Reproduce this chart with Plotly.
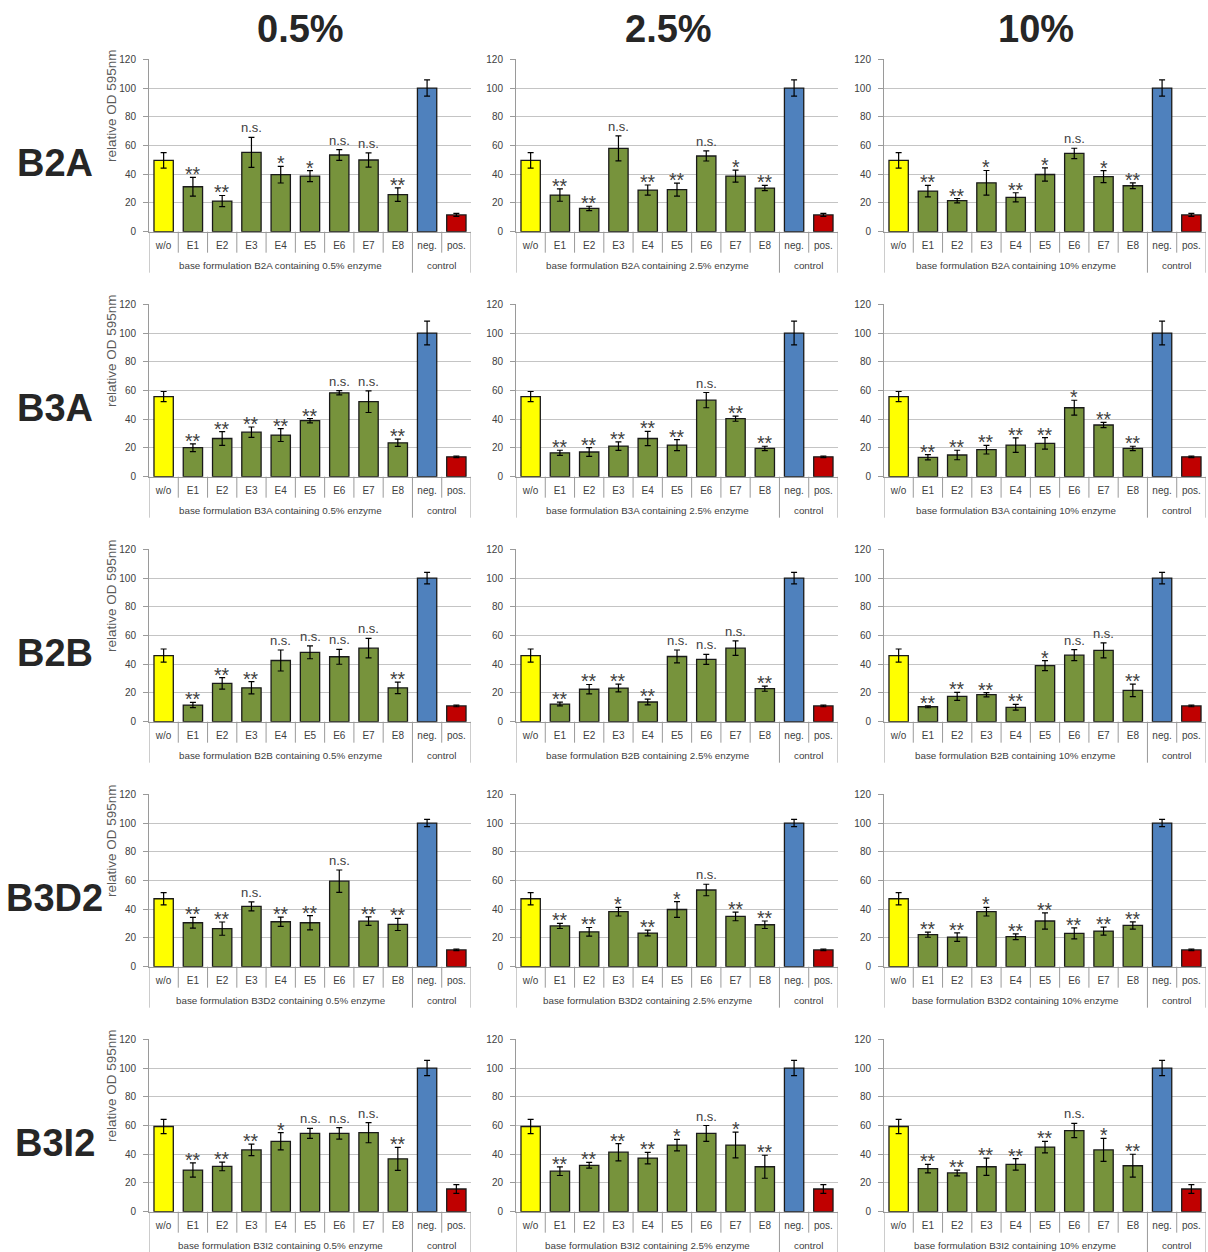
import plotly.graph_objects as go

# ---- categories and labels ----
categories = ["w/o", "E1", "E2", "E3", "E4", "E5", "E6", "E7", "E8", "neg.", "pos."]
formulations = ["B2A", "B3A", "B2B", "B3D2", "B3I2"]
concentrations = ["0.5%", "2.5%", "10%"]
bar_colors = ["#FFFF00"] + ["#77933C"] * 8 + ["#4F81BD", "#C00000"]

# ---- B2A ----
b2a_mean_05 = [49.6, 31.3, 21.3, 55.2, 39.7, 38.7, 53.4, 49.9, 25.8, 100, 11.7]
b2a_err_05 = [5.4, 6.5, 3.9, 10.4, 5.8, 3.8, 3.7, 5.0, 4.7, 5.7, 1.0]
b2a_sig_05 = ["", "**", "**", "n.s.", "*", "*", "n.s.", "n.s.", "**", "", ""]
b2a_mean_25 = [49.6, 25.5, 16.2, 58.0, 29.0, 29.3, 52.7, 38.7, 30.4, 100, 11.7]
b2a_err_25 = [5.4, 4.3, 1.5, 8.7, 3.5, 4.5, 3.5, 4.2, 1.8, 5.7, 1.0]
b2a_sig_25 = ["", "**", "**", "n.s.", "**", "**", "n.s.", "*", "**", "", ""]
b2a_mean_10 = [49.6, 28.3, 21.6, 34.0, 23.9, 39.8, 54.5, 38.3, 32.0, 100, 11.7]
b2a_err_10 = [5.4, 4.0, 1.5, 8.6, 3.2, 4.6, 3.6, 4.2, 2.0, 5.7, 1.0]
b2a_sig_10 = ["", "**", "**", "*", "**", "*", "n.s.", "*", "**", "", ""]

# ---- B3A ----
b3a_mean_05 = [55.8, 20.2, 26.6, 31.0, 29.0, 39.0, 58.4, 52.2, 23.6, 100, 13.8]
b3a_err_05 = [3.5, 2.7, 4.8, 3.6, 4.5, 1.5, 1.5, 7.5, 2.5, 8.3, 0.5]
b3a_sig_05 = ["", "**", "**", "**", "**", "**", "n.s.", "n.s.", "**", "", ""]
b3a_mean_25 = [55.8, 16.6, 17.2, 21.3, 26.6, 22.0, 53.3, 40.4, 19.7, 100, 13.8]
b3a_err_25 = [3.5, 1.8, 3.0, 3.0, 5.0, 3.8, 5.3, 1.8, 1.5, 8.3, 0.5]
b3a_sig_25 = ["", "**", "**", "**", "**", "**", "n.s.", "**", "**", "", ""]
b3a_mean_10 = [55.8, 13.5, 15.1, 18.8, 22.0, 23.2, 48.0, 36.0, 19.7, 100, 13.8]
b3a_err_10 = [3.5, 1.8, 3.3, 3.0, 5.0, 4.0, 5.2, 1.8, 1.5, 8.3, 0.5]
b3a_sig_10 = ["", "**", "**", "**", "**", "**", "*", "**", "**", "", ""]

# ---- B2B ----
b2b_mean_05 = [46.0, 11.6, 26.7, 23.6, 42.6, 48.3, 45.2, 51.2, 23.6, 100, 11.0]
b2b_err_05 = [4.6, 1.8, 4.0, 4.3, 7.3, 4.5, 5.2, 6.8, 4.0, 4.0, 0.6]
b2b_sig_05 = ["", "**", "**", "**", "n.s.", "n.s.", "n.s.", "n.s.", "**", "", ""]
b2b_mean_25 = [46.0, 12.3, 22.6, 23.4, 13.7, 45.4, 43.4, 51.2, 23.0, 100, 11.0]
b2b_err_25 = [4.6, 1.3, 3.3, 2.7, 2.0, 4.5, 3.5, 5.0, 1.8, 4.0, 0.6]
b2b_sig_25 = ["", "**", "**", "**", "**", "n.s.", "n.s.", "n.s.", "**", "", ""]
b2b_mean_10 = [46.0, 10.4, 17.6, 18.8, 10.0, 39.0, 46.3, 49.6, 21.8, 100, 11.0]
b2b_err_10 = [4.6, 0.7, 2.8, 1.5, 2.0, 3.5, 3.8, 5.2, 4.3, 4.0, 0.6]
b2b_sig_10 = ["", "**", "**", "**", "**", "*", "n.s.", "n.s.", "**", "", ""]

# ---- B3D2 ----
b3d2_mean_05 = [47.3, 30.6, 26.5, 42.0, 31.3, 30.6, 59.5, 31.7, 29.4, 100, 11.7]
b3d2_err_05 = [4.3, 3.7, 4.6, 3.1, 3.2, 5.0, 7.8, 3.0, 4.2, 2.5, 0.5]
b3d2_sig_05 = ["", "**", "**", "n.s.", "**", "**", "n.s.", "**", "**", "", ""]
b3d2_mean_25 = [47.3, 28.4, 24.3, 38.3, 23.4, 39.8, 53.4, 35.0, 29.2, 100, 11.7]
b3d2_err_25 = [4.3, 1.8, 3.0, 3.0, 2.0, 5.5, 4.0, 3.0, 2.6, 2.5, 0.5]
b3d2_sig_25 = ["", "**", "**", "*", "**", "*", "n.s.", "**", "**", "", ""]
b3d2_mean_10 = [47.3, 22.3, 20.6, 38.3, 20.9, 31.8, 23.2, 24.8, 28.7, 100, 11.7]
b3d2_err_10 = [4.3, 1.8, 3.0, 3.0, 2.0, 5.7, 3.8, 2.8, 2.5, 2.5, 0.5]
b3d2_sig_10 = ["", "**", "**", "*", "**", "**", "**", "**", "**", "", ""]

# ---- B3I2 ----
b3i2_mean_05 = [59.3, 29.0, 31.5, 43.0, 49.0, 54.5, 54.5, 55.0, 36.8, 100, 15.8]
b3i2_err_05 = [5.0, 5.0, 3.0, 4.0, 6.0, 3.5, 4.0, 7.0, 8.0, 5.3, 3.0]
b3i2_sig_05 = ["", "**", "**", "**", "*", "n.s.", "n.s.", "n.s.", "**", "", ""]
b3i2_mean_25 = [59.3, 28.2, 32.3, 41.4, 37.3, 46.4, 54.5, 46.4, 31.3, 100, 15.8]
b3i2_err_25 = [5.0, 3.0, 2.0, 6.0, 4.0, 4.0, 5.5, 9.0, 8.0, 5.3, 3.0]
b3i2_sig_25 = ["", "**", "**", "**", "**", "*", "n.s.", "*", "**", "", ""]
b3i2_mean_10 = [59.3, 30.0, 27.0, 31.3, 33.0, 45.0, 56.5, 43.0, 32.0, 100, 15.8]
b3i2_err_10 = [5.0, 3.0, 2.0, 6.0, 4.0, 4.0, 5.0, 8.0, 8.0, 5.3, 3.0]
b3i2_sig_10 = ["", "**", "**", "**", "**", "**", "n.s.", "*", "**", "", ""]

panels = [
    [(b2a_mean_05, b2a_err_05, b2a_sig_05), (b2a_mean_25, b2a_err_25, b2a_sig_25), (b2a_mean_10, b2a_err_10, b2a_sig_10)],
    [(b3a_mean_05, b3a_err_05, b3a_sig_05), (b3a_mean_25, b3a_err_25, b3a_sig_25), (b3a_mean_10, b3a_err_10, b3a_sig_10)],
    [(b2b_mean_05, b2b_err_05, b2b_sig_05), (b2b_mean_25, b2b_err_25, b2b_sig_25), (b2b_mean_10, b2b_err_10, b2b_sig_10)],
    [(b3d2_mean_05, b3d2_err_05, b3d2_sig_05), (b3d2_mean_25, b3d2_err_25, b3d2_sig_25), (b3d2_mean_10, b3d2_err_10, b3d2_sig_10)],
    [(b3i2_mean_05, b3i2_err_05, b3i2_sig_05), (b3i2_mean_25, b3i2_err_25, b3i2_sig_25), (b3i2_mean_10, b3i2_err_10, b3i2_sig_10)],
]

# ---- page geometry (pixels) ----
W, H = 1208, 1252
col_left = [149, 516, 884]
plot_w = 322
row_top0, row_bot0, row_step = 59.3, 231.7, 245
plot_h = row_bot0 - row_top0

FONT = "Liberation Sans"
TXT = "#404040"
AXIS = "#9a9a9a"
GRID = "#c4c4c4"

n_cat = len(categories)
n_sample = 9  # w/o + E1..E8 belong to the formulation group, the rest are controls

fig = go.Figure()
layout = {}
annotations = []
shapes = []

idx = 0
for r, form in enumerate(formulations):
    for c, conc in enumerate(concentrations):
        idx += 1
        mean, err, sig = panels[r][c]
        xa = "x" if idx == 1 else f"x{idx}"
        ya = "y" if idx == 1 else f"y{idx}"

        fig.add_trace(go.Bar(
            x=categories, y=mean,
            marker=dict(color=bar_colors, line=dict(color="#1a1a1a", width=1.3)),
            error_y=dict(type="data", array=err, color="#000000", thickness=1.2, width=3),
            xaxis=xa, yaxis=ya, showlegend=False, hoverinfo="skip",
        ))

        # significance marks just above each error bar
        for cat, m, e, s in zip(categories, mean, err, sig):
            if not s:
                continue
            stars = s != "n.s."
            annotations.append(dict(
                text=s, xref=xa, yref=ya, x=cat, y=m + e,
                showarrow=False, xanchor="center", yanchor="bottom",
                yshift=-10 if stars else 0,
                font=dict(family=FONT, size=19.5 if stars else 13, color=TXT),
            ))

        x0 = col_left[c] / W
        x1 = (col_left[c] + plot_w) / W
        y1 = 1 - (row_top0 + r * row_step) / H
        y0 = 1 - (row_bot0 + r * row_step) / H
        xkey = "xaxis" if idx == 1 else f"xaxis{idx}"
        ykey = "yaxis" if idx == 1 else f"yaxis{idx}"
        layout[xkey] = dict(
            domain=[x0, x1], anchor=ya, type="category",
            range=[-0.5, n_cat - 0.5], automargin=False,
            showline=True, linecolor=AXIS, linewidth=1, ticks="",
            ticklabelstandoff=4,
            tickfont=dict(family=FONT, size=10, color=TXT),
            showgrid=False, fixedrange=True,
        )
        layout[ykey] = dict(
            domain=[y0, y1], anchor=xa, range=[0, 120], dtick=20,
            automargin=False,
            showline=True, linecolor=AXIS, linewidth=1,
            ticks="outside", ticklen=5, tickcolor=AXIS,
            ticklabelstandoff=5,
            gridcolor=GRID, gridwidth=1, zeroline=False,
            tickfont=dict(family=FONT, size=10, color=TXT),
            fixedrange=True,
        )

        # category separators below the axis: short between categories,
        # long at the group boundaries
        short_len = -21 / plot_h
        long_len = -41 / plot_h
        for k in range(n_cat + 1):
            edge = k - 0.5
            is_group_edge = k in (0, n_sample, n_cat)
            shapes.append(dict(
                type="line", xref=xa, yref=f"{ya} domain",
                x0=edge, x1=edge, y0=0, y1=long_len if is_group_edge else short_len,
                line=dict(color=AXIS, width=1),
            ))

        # group labels under the category labels
        annotations.append(dict(
            text=f"base formulation {form} containing {conc} enzyme",
            xref=xa, yref=f"{ya} domain", x=(n_sample - 1) / 2, y=-34 / plot_h,
            showarrow=False, xanchor="center", yanchor="middle",
            font=dict(family=FONT, size=9.8, color=TXT),
        ))
        annotations.append(dict(
            text="control",
            xref=xa, yref=f"{ya} domain", x=(n_sample + n_cat - 1) / 2, y=-34 / plot_h,
            showarrow=False, xanchor="center", yanchor="middle",
            font=dict(family=FONT, size=9.8, color=TXT),
        ))

        if c == 0:
            annotations.append(dict(
                text="relative OD 595nm", textangle=-90,
                x=111 / W, y=1 - (106 + r * row_step) / H,
                xref="paper", yref="paper", showarrow=False,
                xanchor="center", yanchor="middle",
                font=dict(family=FONT, size=13.5, color="#595959"),
            ))

col_title_x = [300, 668, 1036]
for c, conc in enumerate(concentrations):
    annotations.append(dict(
        text=f"<b>{conc}</b>", x=col_title_x[c] / W, y=1 - 29 / H,
        xref="paper", yref="paper", showarrow=False,
        font=dict(family=FONT, size=38, color="#262626"),
        xanchor="center", yanchor="middle",
    ))
for r, form in enumerate(formulations):
    annotations.append(dict(
        text=f"<b>{form}</b>", x=55 / W, y=1 - (163 + r * row_step) / H,
        xref="paper", yref="paper", showarrow=False,
        font=dict(family=FONT, size=38, color="#262626"),
        xanchor="center", yanchor="middle",
    ))

fig.update_layout(
    width=W, height=H, autosize=False,
    margin=dict(l=0, r=0, t=0, b=0, pad=0),
    paper_bgcolor="white", plot_bgcolor="white",
    bargap=0.34, annotations=annotations, shapes=shapes,
    font=dict(family=FONT, color=TXT),
    **layout,
)

fig.write_html("out.html")
